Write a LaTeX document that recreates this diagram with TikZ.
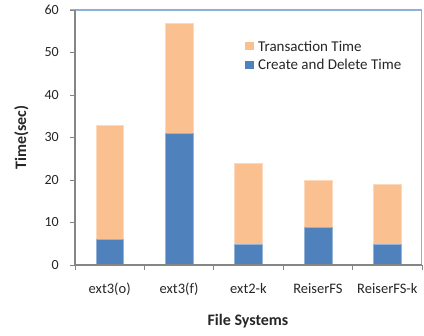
\documentclass[tikz,border=0pt]{standalone}
\usepackage{fontspec}
\setmainfont{Carlito}
\definecolor{barorange}{HTML}{FAC090}
\definecolor{barblue}{HTML}{4F81BD}
\definecolor{axisgrey}{HTML}{868686}
\definecolor{frameblue}{HTML}{8EB0D8}
\begin{document}
\begin{tikzpicture}[x=1pt,y=-1pt,
  axisline/.style={draw=axisgrey,line width=1.3pt},
  tickline/.style={draw=axisgrey,line width=0.8pt},
  frameline/.style={draw=frameblue,line width=1.2pt},
  ticklabel/.style={font=\fontsize{14}{16}\selectfont,inner sep=0pt,text=black!85},
  catlabel/.style={font=\fontsize{14.5}{17}\selectfont,inner sep=0pt,anchor=base,text=black!85},
  axistitle/.style={font=\fontsize{16}{18}\selectfont\bfseries,inner sep=0pt,text=black!85},
  legtext/.style={font=\fontsize{15}{17}\selectfont,inner sep=0pt,anchor=base west,text=black!85},
  createbar/.style={fill=barblue,draw=barblue!60!white,line width=0.4pt},
  transbar/.style={fill=barorange,draw=barorange!60!white,line width=0.4pt}]
\useasboundingbox (0,0) rectangle (424,336);
\def\ybase{265}
\def\yscl{4.25}
\def\cw{69.4}
\def\bw{13.85}
% frame (top and right)
\coordinate (tl) at (70,10);
\coordinate (tr) at (421.5,10);
\coordinate (br) at (421.5,265);
\draw[frameline] (tl) -- (tr) -- (br);
% bars
\foreach \k/\c/\t in {0/6/33,1/31/57,2/5/24,3/9/20,4/5/19}{
  \pgfmathsetmacro{\xc}{75+\cw*(\k+0.5)}
  \pgfmathsetmacro{\yc}{\ybase-\yscl*\c}
  \pgfmathsetmacro{\yt}{\ybase-\yscl*\t}
  \path[transbar] (\xc-\bw,\yc) rectangle (\xc+\bw,\yt);
  \path[createbar] (\xc-\bw,\ybase) rectangle (\xc+\bw,\yc);
}
% axes
\coordinate (o) at (75,265);
\coordinate (ytop) at (75,10);
\coordinate (xend) at (421.5,265);
\draw[axisline] (ytop) -- (o) -- (xend);
% y ticks and labels
\foreach \v in {0,10,...,60}{
  \pgfmathsetmacro{\yy}{\ybase-\yscl*\v}
  \coordinate (yt\v) at (75,\yy);
  \draw[tickline] (yt\v) -- ++(-5,0);
  \node[ticklabel,anchor=east] (yl\v) at (59,\yy) {\v};
}
% x ticks
\foreach \k in {0,...,5}{
  \coordinate (xt\k) at (75+\cw*\k,265);
  \draw[tickline] (xt\k) -- ++(0,5);
}
% category labels
\foreach \k/\lab in {0/ext3(o),1/ext3(f),2/ext2-k,3/ReiserFS,4/ReiserFS-k}{
  \node[catlabel] (cat\k) at (75+\cw*\k+\cw/2,294) {\lab};
}
% axis titles
\node[axistitle] (xtitle) at (248,326) [anchor=base] {File Systems};
\node[axistitle,rotate=90] (ytitle) at (21.5,137.5) {Time(sec)};
% legend
\node[fill=barorange,minimum size=8.5pt,inner sep=0pt] (legsq1) at (249.5,46) {};
\node[legtext] (leg1) at (258,51.5) {Transaction Time};
\node[fill=barblue,minimum size=8.5pt,inner sep=0pt] (legsq2) at (249.5,65) {};
\node[legtext] (leg2) at (258,69.3) {Create and Delete Time};
\end{tikzpicture}
\end{document}
